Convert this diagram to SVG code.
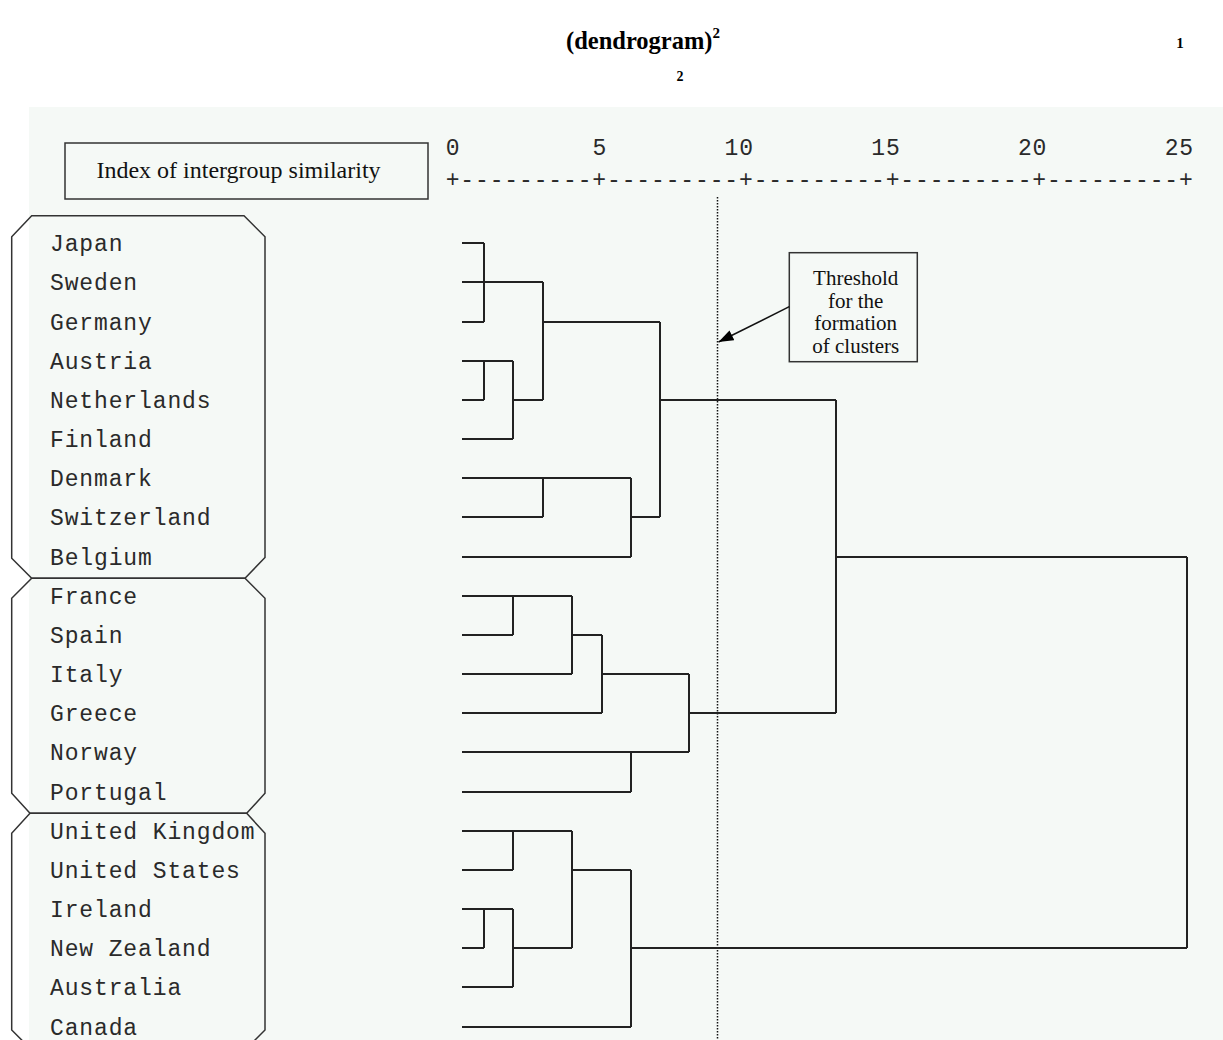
<svg xmlns="http://www.w3.org/2000/svg" width="1223" height="1040" viewBox="0 0 1223 1040">
<defs>
<style>
.title{font-family:"Liberation Serif","Times New Roman",serif;font-weight:bold;fill:#000}
.serif{font-family:"Liberation Serif","Times New Roman",serif;fill:#111}
.mono{font-family:"Liberation Mono","Courier New",monospace;font-size:23px;letter-spacing:0.87px;fill:#2a2a2a}
.box{fill:none;stroke:#333;stroke-width:1.5}
.oct{fill:none;stroke:#333;stroke-width:1.5}
.dg{fill:none;stroke:#222;stroke-width:2}
</style>
<marker id="ah" markerUnits="userSpaceOnUse" markerWidth="15" markerHeight="11" refX="15" refY="5.5" orient="auto">
<path d="M0,0 L15,5.5 L0,11 z" fill="#000"/>
</marker>
</defs>
<rect x="0" y="0" width="1223" height="1040" fill="#ffffff"/>
<rect x="29" y="107" width="1194" height="933" fill="#f5f9f6"/>

<g id="title">
<text class="title" x="566" y="49" font-size="24.5">(dendrogram)<tspan font-size="15" dy="-11">2</tspan></text>
<text class="title" x="1180" y="48" font-size="15" text-anchor="middle">1</text>
<text class="title" x="680" y="81" font-size="14" text-anchor="middle">2</text>
</g>

<g id="header">
<rect class="box" x="65" y="143" width="363" height="56"/>
<text class="serif" x="238.5" y="178" font-size="24" text-anchor="middle">Index of intergroup similarity</text>
</g>

<g id="axis" class="mono">
<text x="460.5" y="154.5" text-anchor="end">0</text>
<text x="607.2" y="154.5" text-anchor="end">5</text>
<text x="753.9" y="154.5" text-anchor="end">10</text>
<text x="900.6" y="154.5" text-anchor="end">15</text>
<text x="1047.3" y="154.5" text-anchor="end">20</text>
<text x="1194" y="154.5" text-anchor="end">25</text>
<text x="445.7" y="187" textLength="748" lengthAdjust="spacing">+---------+---------+---------+---------+---------+</text>
</g>

<g id="group-1">
<polygon class="oct" points="31.7,215.7 244,215.7 265,236.7 265,557.5 245,578.3 31.7,578.3 11.7,558.3 11.7,236.7"/>
<g class="mono">
<text x="50" y="250.5">Japan</text>
<text x="50" y="289.5">Sweden</text>
<text x="50" y="329.5">Germany</text>
<text x="50" y="368.5">Austria</text>
<text x="50" y="407.5">Netherlands</text>
<text x="50" y="446.5">Finland</text>
<text x="50" y="485.5">Denmark</text>
<text x="50" y="524.5">Switzerland</text>
<text x="50" y="564.5">Belgium</text>
</g>
</g>

<g id="group-2">
<polygon class="oct" points="31.7,578.3 245,578.3 265,598.3 265,793.3 246.7,813.3 30,813.3 11.7,793.3 11.7,598.3"/>
<g class="mono">
<text x="50" y="603.5">France</text>
<text x="50" y="642.5">Spain</text>
<text x="50" y="681.5">Italy</text>
<text x="50" y="720.5">Greece</text>
<text x="50" y="759.5">Norway</text>
<text x="50" y="799.5">Portugal</text>
</g>
</g>

<g id="group-3">
<polygon class="oct" points="30,813.3 246.7,813.3 265,833.3 265,1030 245,1050 31.7,1050 11.7,1030 11.7,833.3"/>
<g class="mono">
<text x="50" y="838.5">United Kingdom</text>
<text x="50" y="877.5">United States</text>
<text x="50" y="916.5">Ireland</text>
<text x="50" y="955.5">New Zealand</text>
<text x="50" y="994.5">Australia</text>
<text x="50" y="1034.5">Canada</text>
</g>
</g>

<g id="threshold">
<line x1="717.5" y1="197" x2="717.5" y2="1040" stroke="#111" stroke-width="1.5" stroke-dasharray="1.5 1.5"/>
<rect class="box" x="789.3" y="252.7" width="128" height="109" fill="#f5f9f6"/>
<g class="serif" font-size="21" text-anchor="middle">
<text x="855.7" y="285">Threshold</text>
<text x="855.7" y="307.5">for the</text>
<text x="855.7" y="330">formation</text>
<text x="855.7" y="352.5">of clusters</text>
</g>
<line x1="789.3" y1="306.7" x2="718.5" y2="342" stroke="#111" stroke-width="1.5" marker-end="url(#ah)"/>
</g>

<g id="connectors" class="dg">
<path d="M462,243H484M462,322H484M484,243V322M462,282H543"/>
<path d="M462,361H513M462,400H484M484,361V400M462,439H513M513,361V439M513,400H543M543,282V400M543,322H660"/>
<path d="M462,478H631M462,517H543M543,478V517M631,478V557M462,557H631M631,517H660M660,322V517M660,400H836"/>
<path d="M462,596H572M462,635H513M513,596V635M462,674H572M572,596V674M572,635H602M462,713H602M602,635V713M602,674H689M462,752H689M689,674V752M462,792H631M631,752V792M689,713H836M836,400V713M836,557H1187"/>
<path d="M462,831H572M462,870H513M513,831V870M462,909H513M462,948H484M484,909V948M462,987H513M513,909V987M513,948H572M572,831V948M572,870H631M462,1027H631M631,870V1027M631,948H1187M1187,557V948"/>
</g>
</svg>
